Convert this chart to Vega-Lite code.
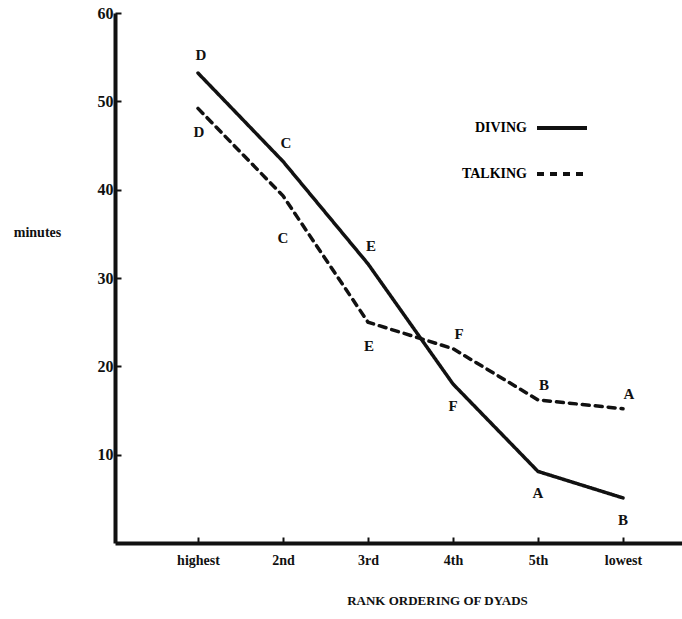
{
  "$schema": "https://vega.github.io/schema/vega-lite/v6.json",
  "autosize": "none",
  "width": 567,
  "height": 530,
  "padding": {"left": 115, "top": 13, "right": 0, "bottom": 76},
  "background": "white",
  "config": {
    "view": {"stroke": null},
    "font": "Liberation Serif",
    "axis": {"grid": false, "domainColor": "#111", "tickColor": "#111", "labelColor": "#111", "titleColor": "#111", "labelFont": "Liberation Serif", "titleFont": "Liberation Serif", "labelFontWeight": "bold", "titleFontWeight": "bold"},
    "legend": {"labelFont": "Liberation Serif", "labelFontWeight": "bold"}
  },
  "data": {
    "values": [
      {"series": "Diving", "rank": 1, "minutes": 53.2, "dyad": "D"},
      {"series": "Diving", "rank": 2, "minutes": 43.2, "dyad": "C"},
      {"series": "Diving", "rank": 3, "minutes": 31.6, "dyad": "E"},
      {"series": "Diving", "rank": 4, "minutes": 18.0, "dyad": "F"},
      {"series": "Diving", "rank": 5, "minutes": 8.1, "dyad": "A"},
      {"series": "Diving", "rank": 6, "minutes": 5.1, "dyad": "B"},
      {"series": "Talking", "rank": 1, "minutes": 49.2, "dyad": "D"},
      {"series": "Talking", "rank": 2, "minutes": 39.3, "dyad": "C"},
      {"series": "Talking", "rank": 3, "minutes": 25.0, "dyad": "E"},
      {"series": "Talking", "rank": 4, "minutes": 22.0, "dyad": "F"},
      {"series": "Talking", "rank": 5, "minutes": 16.2, "dyad": "B"},
      {"series": "Talking", "rank": 6, "minutes": 15.2, "dyad": "A"}
    ]
  },
  "encoding": {
    "x": {
      "field": "rank", "type": "quantitative",
      "scale": {"domain": [0.0235, 6.694], "nice": false, "zero": false},
      "axis": {
        "values": [1, 2, 3, 4, 5, 6],
        "labelExpr": "['', 'highest', '2nd', '3rd', '4th', '5th', 'lowest'][datum.value]",
        "domainWidth": 4, "tickSize": -6, "tickWidth": 2, "labelPadding": 16, "labelFontSize": 14,
        "title": "RANK ORDERING OF DYADS", "titleFontSize": 13, "titleX": 322, "titleY": 57, "titleAnchor": null, "titleAlign": "center", "titleBaseline": "middle"
      }
    },
    "y": {
      "field": "minutes", "type": "quantitative",
      "scale": {"domain": [0, 60], "nice": false},
      "axis": {
        "values": [10, 20, 30, 40, 50, 60],
        "domainWidth": 4, "tickSize": -6, "tickWidth": 2, "labelPadding": 8, "labelFontSize": 16,
        "title": "minutes", "titleAngle": 0, "titleFontSize": 14, "titleX": -78, "titleY": 219, "titleAlign": "center", "titleBaseline": "middle"
      }
    }
  },
  "layer": [
    {
      "mark": {"type": "line", "color": "#111", "strokeWidth": 3.5, "strokeCap": "round"},
      "encoding": {
        "strokeDash": {
          "field": "series", "type": "nominal",
          "scale": {"domain": ["Diving", "Talking"], "range": [[1, 0], [7, 6]]},
          "legend": {
            "title": null, "orient": "none", "legendX": 420, "legendY": 88,
            "symbolType": "stroke", "symbolSize": 2500, "symbolStrokeWidth": 4, "symbolStrokeColor": "#111",
            "labelExpr": "upper(datum.label)", "labelFontSize": 14, "labelAlign": "right", "labelOffset": -62, "rowPadding": 11
          }
        }
      }
    },
    {
      "transform": [{"filter": "datum.series == 'Diving' && datum.rank <= 3"}],
      "mark": {"type": "text", "fontWeight": "bold", "fontSize": 15, "dy": -18, "dx": 3, "color": "#111"},
      "encoding": {"text": {"field": "dyad"}}
    },
    {
      "transform": [{"filter": "datum.series == 'Diving' && datum.rank >= 4"}],
      "mark": {"type": "text", "fontWeight": "bold", "fontSize": 15, "dy": 22, "dx": 0, "color": "#111"},
      "encoding": {"text": {"field": "dyad"}}
    },
    {
      "transform": [{"filter": "datum.series == 'Talking' && datum.rank != 2 && datum.rank <= 3"}],
      "mark": {"type": "text", "fontWeight": "bold", "fontSize": 15, "dy": 24, "dx": 1, "color": "#111"},
      "encoding": {"text": {"field": "dyad"}}
    },
    {
      "transform": [{"filter": "datum.series == 'Talking' && datum.rank == 2"}],
      "mark": {"type": "text", "fontWeight": "bold", "fontSize": 15, "dy": 42, "dx": 0, "color": "#111"},
      "encoding": {"text": {"field": "dyad"}}
    },
    {
      "transform": [{"filter": "datum.series == 'Talking' && datum.rank >= 4"}],
      "mark": {"type": "text", "fontWeight": "bold", "fontSize": 15, "dy": -15, "dx": 6, "color": "#111"},
      "encoding": {"text": {"field": "dyad"}}
    }
  ]
}
